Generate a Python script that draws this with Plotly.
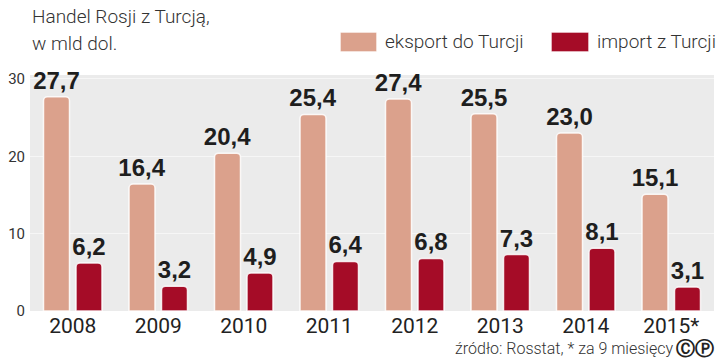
import plotly.graph_objects as go

years = ["2008", "2009", "2010", "2011", "2012", "2013", "2014", "2015*"]
export_vals = [27.7, 16.4, 20.4, 25.4, 27.4, 25.5, 23.0, 15.1]
import_vals = [6.2, 3.2, 4.9, 6.4, 6.8, 7.3, 8.1, 3.1]
export_name = "eksport do Turcji"
import_name = "import z Turcji"
y_ticks = [0, 10, 20, 30]

EXP_COLOR = "#dba18c"
IMP_COLOR = "#a50c27"
LABEL_FONT = dict(family="Liberation Sans, Arial, sans-serif",
                  size=24, color="#1e1e1e", weight="bold")

def fmt(v):
    return f"{v:.1f}".replace(".", ",")

fig = go.Figure()
fig.add_trace(go.Bar(
    x=years, y=export_vals, name=export_name,
    marker=dict(color=EXP_COLOR, cornerradius=4,
                line=dict(color="rgba(255,255,255,0.85)", width=1.5)),
    text=[fmt(v) for v in export_vals], textposition="outside",
    textfont=LABEL_FONT, cliponaxis=False, constraintext="none",
))
fig.add_trace(go.Bar(
    x=years, y=import_vals, name=import_name,
    marker=dict(color=IMP_COLOR, cornerradius=4,
                line=dict(color="rgba(255,255,255,0.85)", width=1.5)),
    text=[fmt(v) for v in import_vals], textposition="outside",
    textfont=LABEL_FONT, cliponaxis=False, constraintext="none",
))

fig.update_layout(
    width=720, height=361,
    margin=dict(l=30, r=6, t=75, b=50),
    barmode="group", bargap=0.24, bargroupgap=0.2,
    plot_bgcolor="#ebebeb", paper_bgcolor="white",
    showlegend=False,
    xaxis=dict(range=[-0.5, 7.5], showgrid=False, zeroline=False, showline=False,
               ticks="", tickfont=dict(family="Roboto, sans-serif", size=21, color="#222")),
    yaxis=dict(range=[0, 30.5], tickvals=y_ticks, showgrid=True, gridcolor="#f6f6f6",
               gridwidth=1, zeroline=False, showline=False, ticks="",
               tickfont=dict(family="Roboto, sans-serif", size=15, color="#333"),
               ticklabelstandoff=4),
    font=dict(family="Roboto, sans-serif"),
)

def px_x(px):
    return (px - 30) / 684

def px_y(py):
    return (311 - py) / 236

TITLE_FONT = dict(family="Roboto, sans-serif", size=19, color="#333", weight=300)
fig.add_annotation(text="Handel Rosji z Turcją,", xref="paper", yref="paper",
                   x=px_x(30), y=px_y(16), xanchor="left", yanchor="middle",
                   showarrow=False, font=TITLE_FONT)
fig.add_annotation(text="w mld dol.", xref="paper", yref="paper",
                   x=px_x(30), y=px_y(44), xanchor="left", yanchor="middle",
                   showarrow=False, font=TITLE_FONT)

# legend drawn manually
for x0, x1, color, label in [(340, 377, EXP_COLOR, export_name),
                              (551, 589, IMP_COLOR, import_name)]:
    fig.add_shape(type="rect", xref="paper", yref="paper",
                  x0=px_x(x0), x1=px_x(x1), y0=px_y(52), y1=px_y(32),
                  fillcolor=color, line=dict(color="rgba(255,255,255,0.9)", width=1.5),
                  layer="above")
    fig.add_annotation(text=label, xref="paper", yref="paper",
                       x=px_x(x1 + 6), y=px_y(42), xanchor="left", yanchor="middle",
                       showarrow=False, font=TITLE_FONT)

fig.add_annotation(text="źródło: Rosstat, * za 9 miesięcy", xref="paper", yref="paper",
                   x=px_x(675), y=px_y(348), xanchor="right", yanchor="middle",
                   showarrow=False,
                   font=dict(family="Roboto, sans-serif", size=16, color="#333", weight=300))
fig.add_annotation(text="ⒸⓅ", xref="paper", yref="paper",
                   x=px_x(716), y=px_y(348), xanchor="right", yanchor="middle",
                   showarrow=False,
                   font=dict(family="DejaVu Sans, sans-serif", size=19, color="#222", weight="bold"))

fig.write_html("out.html", config={"displayModeBar": False},
               post_script="document.body.style.margin='0';document.body.style.padding='0';")
